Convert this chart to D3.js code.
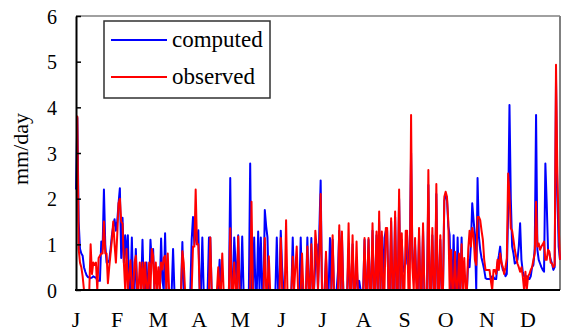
<!DOCTYPE html>
<html><head><meta charset="utf-8">
<script src="https://cdn.jsdelivr.net/npm/d3@7"></script>
<style>
html,body{margin:0;padding:0;background:#fff;}
svg text{font-family:"Liberation Serif","Times New Roman",Times,serif;fill:#000;}
</style></head>
<body>
<svg id="chart" width="563" height="332"></svg>
<script>
// ---- data (daily values, mm/day) ----
const monthLabels = ["J","F","M","A","M","J","J","A","S","O","N","D"];
const yTicks = [0,1,2,3,4,5,6];
const seriesNames = ["computed","observed"];

const computed = [
// d0-36
2.2,3.77,1.5,0.9,0.8,0.75,0.5,0.4,0.32,0.28,0.28,0.26,0.27,0.3,0.28,0.27,0.22,0.2,0.2,1.06,0.9,2.2,1.0,0.6,0.6,0.65,0.9,1.2,1.4,1.55,1.3,1.5,1.9,2.23,0.7,1.58,0.6,
// d37-93
1.2,0.7,1.2,0,0,1.15,0,0,0.9,0,
0,0,0,1.1,0,0,0.6,0,0,1.1,
0.6,0.9,0,0,0,0,0,1.13,0.2,0,
1.24,0,0,0,0,0,0.9,0,0,0,
0,0,0,1.05,0,0,0,0,0,0,
1.1,1.6,1.0,1.4,1.0,1.31,0,
// d94-184
0,1.15,0,0,0,0,1.15,1.15,0,0,
0,0,0,0,0.66,0,0,0,0,0,
0,0,2.45,0,0,1.15,0.6,0,1.2,0,
0,1.17,0,0,0,0,0,2.77,0,0,
1.15,0,0,1.28,0,1.15,0,0,1.75,1.4,
1.15,0,0,0,0,0,0,1.15,0,0,
1.3,0.5,0,0,0,0,0,0,0,1.15,
0,0,0,0,0,1.15,0,0,0,0,
1.15,0,0,1.14,0,0,0.6,1.0,0,1.3,
2.4,
// d185-300
0,0,0,0.7,0,0,1.14,0,1.1,0,
0,0,0.4,1.3,0,1.2,0,0,0,0,
0.9,0,0,1.0,0,0,0.6,0,0.2,0,
0,0,1.1,0,0,1.1,0,0,1.3,0,
0,1.2,0,1.5,0,1.2,0,1.14,1.3,1.3,
0,0,1.5,0,0,1.6,0,0,2.0,0,
1.1,0.4,0.5,0.58,1.2,0.5,0.7,3.0,0.7,0.3,
1.0,0.22,0,1.2,0,0,1.3,0,0,0,
2.3,0,0,1.2,0,0,2.1,0,0,1.1,
0,0,1.95,2.08,2.0,1.4,1.2,0,0,1.2,
0,0,1.15,0,0,1.15,0,0,0,0,
0.66,0.5,1.0,1.9,1.53,1.2,
// d301-364
0,2.45,1.17,0.88,0.7,0.58,0.44,0.26,0.24,0.24,
0.24,0.24,0.3,0.28,0.24,0.24,0.58,0.75,0.95,0.58,
0.44,0.4,0.3,0.35,1.71,4.05,2.0,0.95,0.8,0.58,
0.6,0.66,0.95,1.46,0.66,0.4,0.3,0.3,0.3,0.24,
0.24,0.3,0.5,0.55,0.9,3.83,0.88,0.66,0.58,0.5,
0.44,0.4,2.77,1.9,0.88,0.8,0.66,0.58,0.44,0.5,
4.6,2.1,0.95,0.66
];

const observed = [
// d0-36
3.8,3.8,0.9,0.6,0.5,0.3,0,0,0,0,0,1.0,0.35,0.6,0.55,0.6,0,0.7,0.75,0.8,0.8,1.5,0.8,0.8,0.15,0.5,0.8,1.1,1.5,1.0,0.6,1.2,1.9,2.0,1.5,1.45,0.6,
// d37-93
0,0.9,0,0.3,0.65,0,0,0.6,0.75,0,
0,0.6,0,0.6,0,0.6,0,0,0.6,0,
0.9,0.75,0,0.6,0,0.5,0,0.6,0.45,0.7,
0.75,0,0.8,0,0,0,0,0,0,0,
0,0,0,0.85,0.6,0,0,0,0,0,
0,0.95,0.95,2.2,1.0,1.0,0,
// d94-184
0,0,0,0,0,0,0,1.15,0,0,
0,0,0,0.5,0,0,0.8,0,0,0,
0,0,1.35,0,0,0.6,0,0,1.17,0,
0,0,0,0,0,0,0,0,1.93,0,
0,0,0,0,0,0,0,0,1.14,0,
0,0.74,0,0,0,0,0,0,0,0,
1.14,0,0,0,1.53,0,0,0,0,0.73,
0,0.5,0.95,0,0,0,0.8,0,0,0,
0.95,0,0,1.0,0,0,1.3,0.9,0,0.8,
2.1,
// d185-300
0,0,0,0.84,0,0,0,0,1.2,0,
0,0,0,1.42,0,1.28,0,0,0,0,
1.46,0,0,1.2,0,0,1.06,0,0,0,
0,0,1.14,0,0,1.14,0,0,1.46,0,
0,1.28,0,1.72,0,1.28,0,0,1.36,1.36,
0,0,1.57,0,0,1.72,0,0,2.2,0,
1.24,0,0,1.3,1.3,0,0,3.83,0.5,0,
1.14,0,0,1.36,0,0,1.46,0,0,0,
2.63,0,0,1.36,0,0,2.32,0,0,1.2,
0,0,2.04,2.15,2.04,1.5,0,0.88,0,0,
0.84,0,0,0.8,0,1.0,0,0.7,0,0,
0.9,1.3,0.95,1.36,1.2,0.66,
// d301-364
0.55,1.6,1.6,1.53,1.3,1.1,0.66,0.44,0.44,0.44,
0.44,0.2,0,0.44,0.44,0.35,0.66,0.44,0.8,0.6,
0.5,0.35,0.5,0.7,2.55,2.1,1.35,1.3,1.1,0.88,
0.73,0.58,0.5,0.4,0.5,0.3,0,0.4,0,0.3,
0.35,0.44,0.5,0.66,0.8,1.93,0.95,1.02,0.88,0.95,
1.0,1.06,0.66,0.66,0.88,0.84,0.6,0.58,0.5,0.55,
4.93,2.55,1.4,0.66
];

const colors = {computed:"#0000ff", observed:"#ff0000"};

// ---- drawing ----
const FONT = "Liberation Serif, Times New Roman, serif";
const svg = d3.select("#chart").attr("font-family", FONT);
const L = 76, R = 560, T = 16, B = 290;
const x = d3.scaleLinear().domain([0, computed.length - 1]).range([L, R]);
const y = d3.scaleLinear().domain([0, 6]).range([B, T]);
const xm = d3.scalePoint().domain(d3.range(monthLabels.length)).range([76, 528]);

// frame (top & right)
svg.append("line").attr("x1",L).attr("x2",R).attr("y1",T).attr("y2",T).attr("stroke","#808080").attr("stroke-width",1.5);
svg.append("line").attr("x1",R).attr("x2",R).attr("y1",T).attr("y2",B).attr("stroke","#808080").attr("stroke-width",2);

const line = d3.line().x((d,i)=>x(i)).y(d=>y(d));
svg.append("path").datum(computed).attr("d",line).attr("fill","none")
   .attr("stroke",colors.computed).attr("stroke-width",2).attr("stroke-linejoin","round");
svg.append("path").datum(observed).attr("d",line).attr("fill","none")
   .attr("stroke",colors.observed).attr("stroke-width",2).attr("stroke-linejoin","round");

// y axis
const yAxis = d3.axisLeft(y).tickValues(yTicks).tickSizeInner(-5).tickSizeOuter(0).tickPadding(19).tickFormat(d3.format("d"));
const ga = svg.append("g").attr("transform",`translate(${L},0)`).call(yAxis).attr("font-family", FONT);
ga.select(".domain").attr("stroke","#000").attr("stroke-width",2);
ga.selectAll(".tick line").attr("stroke","#000").attr("stroke-width",1.5);
ga.selectAll(".tick text").attr("font-size",20).attr("font-family",FONT).attr("dy","0.35em");

// x axis line
svg.append("line").attr("x1",L-1).attr("x2",R).attr("y1",B).attr("y2",B).attr("stroke","#000").attr("stroke-width",2);

// month labels
svg.append("g").selectAll("text").data(monthLabels).join("text")
  .attr("x",(d,i)=>xm(i)).attr("y",327).attr("text-anchor","middle")
  .attr("font-size",22).text(d=>d);

// y label
svg.append("text").attr("transform","translate(28,149) rotate(-90)")
  .attr("text-anchor","middle").attr("font-size",22).text("mm/day");

// legend
const lg = svg.append("g");
lg.append("rect").attr("x",104).attr("y",21).attr("width",166).attr("height",77)
  .attr("fill","#fff").attr("stroke","#303030").attr("stroke-width",1.5);
seriesNames.forEach((n,i)=>{
  const yy = 40 + i*37;
  lg.append("line").attr("x1",111).attr("x2",167).attr("y1",yy).attr("y2",yy)
    .attr("stroke",colors[n]).attr("stroke-width",2);
  lg.append("text").attr("x",172).attr("y",yy+7).attr("font-size",23).text(n);
});
</script>
</body></html>
